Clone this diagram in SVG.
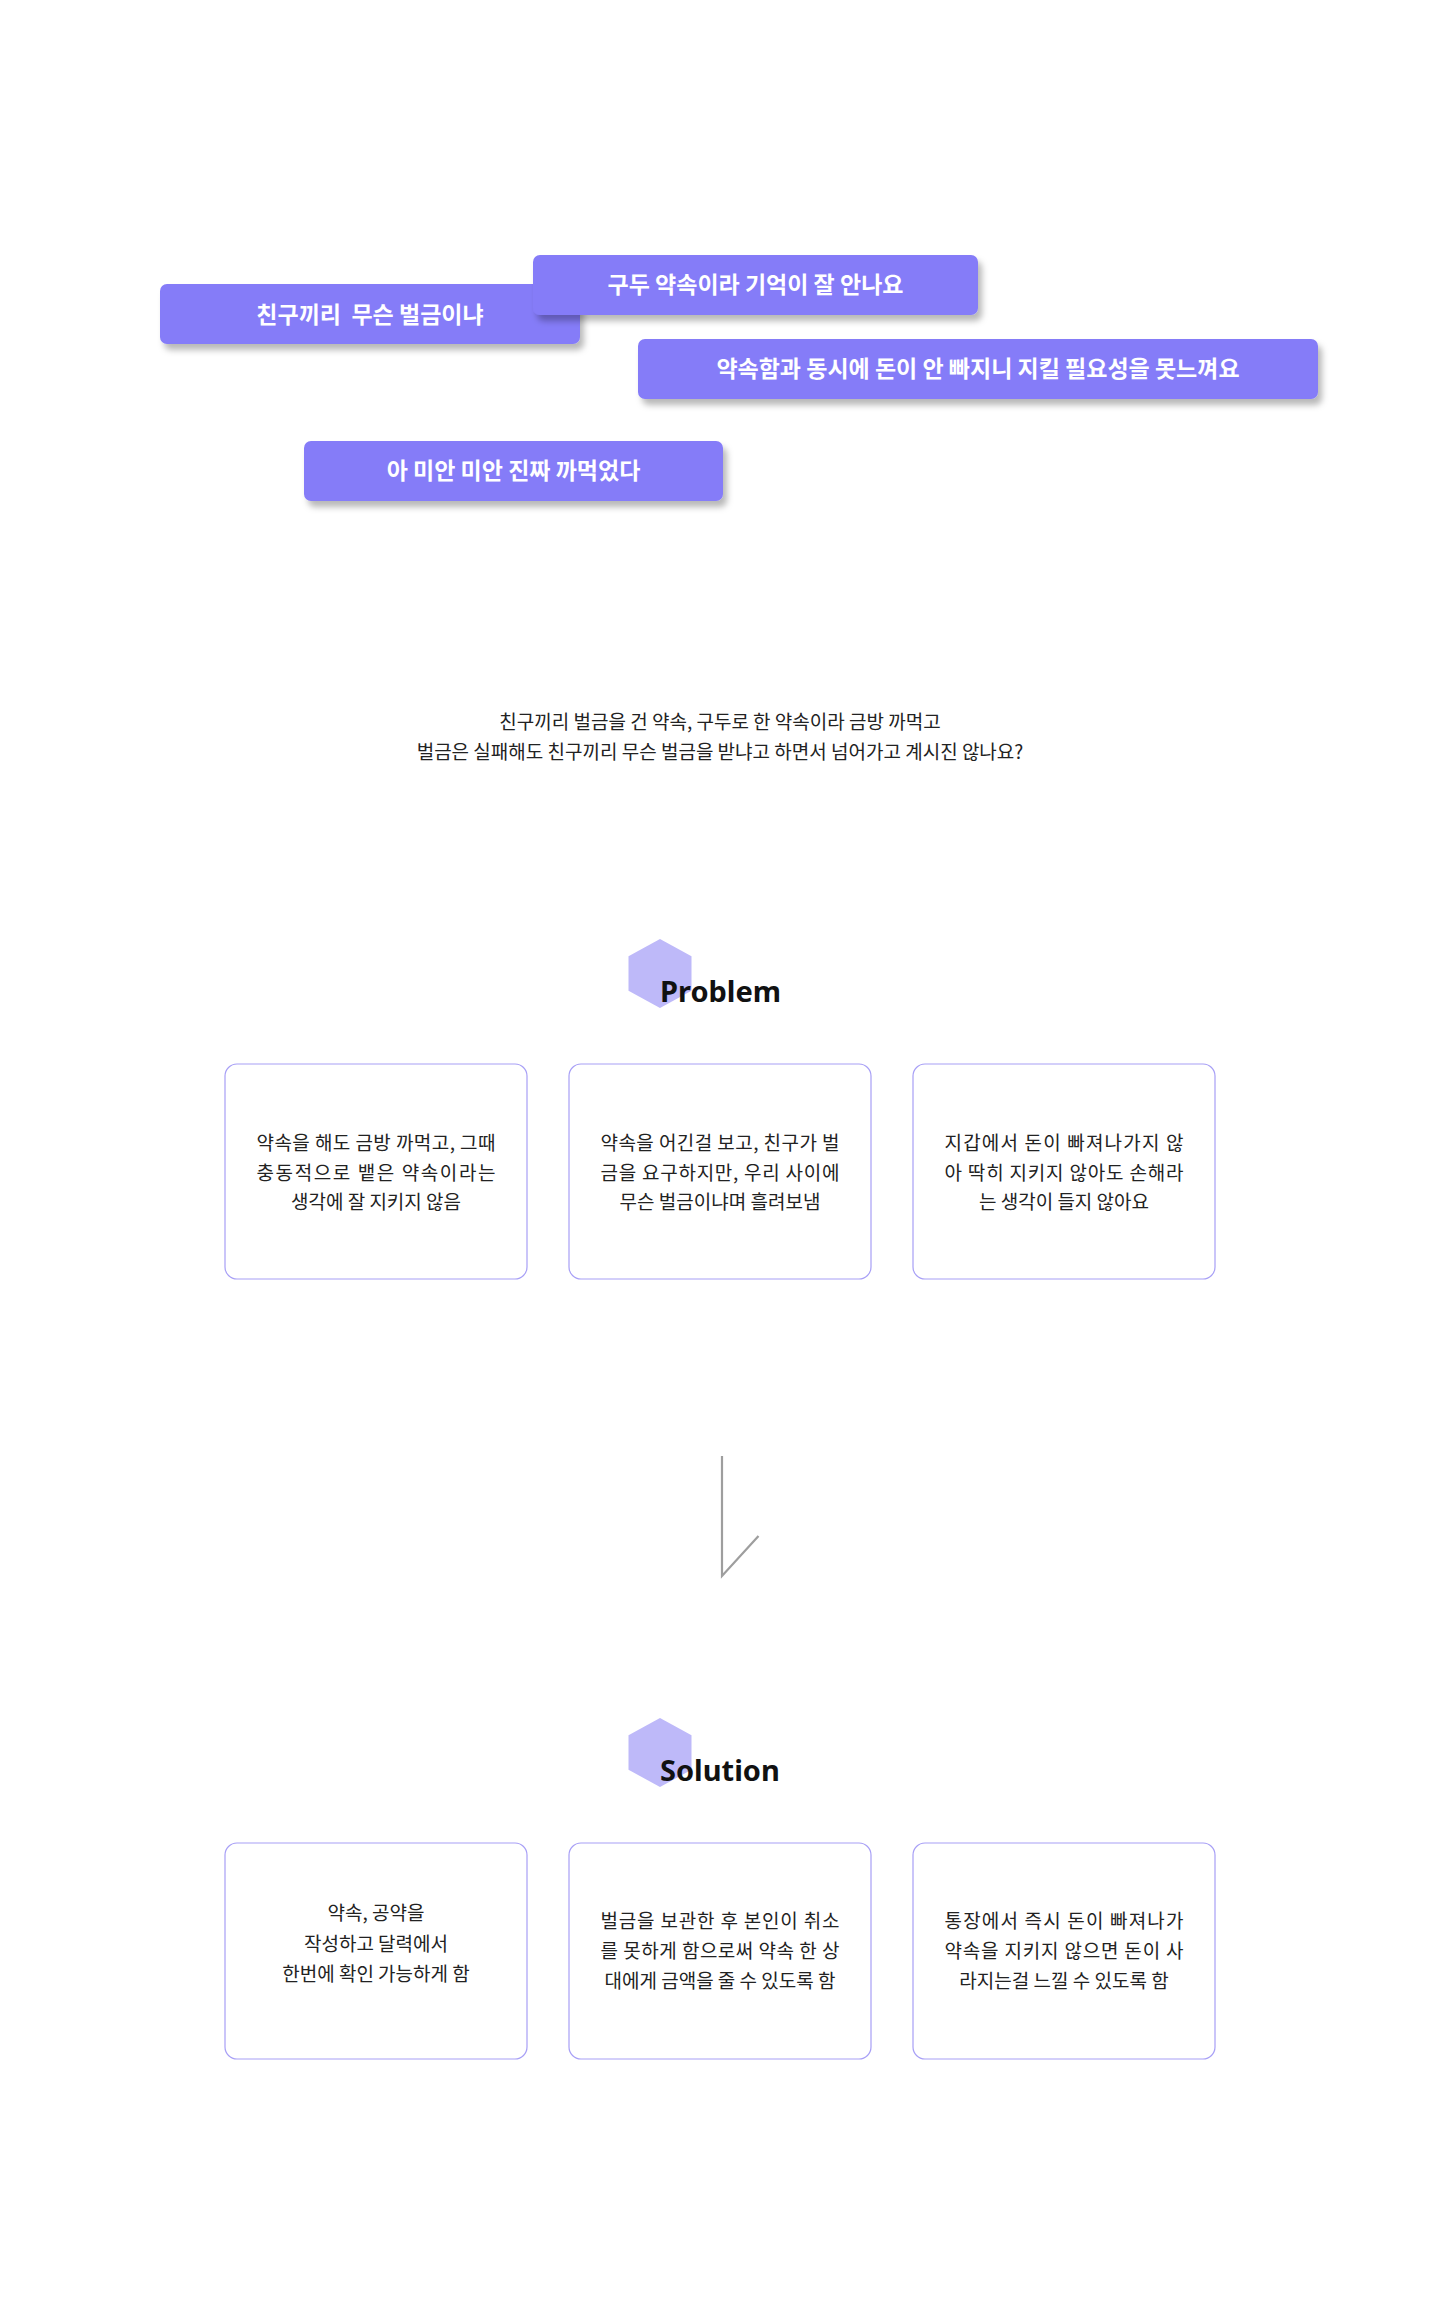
<svg xmlns="http://www.w3.org/2000/svg" width="1440" height="2300" viewBox="0 0 1440 2300">
  <style>
    .bubble { fill: #857CF8; filter: url(#shadow); }
    .btxt { font-family: "Noto Sans CJK KR", "Noto Sans", sans-serif; font-size: 23px; font-weight: 700; fill: #FFFFFF; text-anchor: middle; }
    .para { font-family: "Noto Sans CJK KR", "Noto Sans", sans-serif; font-size: 19px; fill: #222222; text-anchor: middle; }
    .hex { fill: #BEB9F9; }
    .head { font-family: "Noto Sans", "Noto Sans CJK KR", sans-serif; font-size: 29px; font-weight: 700; fill: #111111; }
    .card { fill: #FFFFFF; stroke: #A79FF6; stroke-width: 1.2; }
    .ctxt { font-family: "Noto Sans CJK KR", "Noto Sans", sans-serif; font-size: 19px; fill: #222222; text-anchor: middle; }
    .conn { fill: none; stroke: #9E9E9E; stroke-width: 2.2; }
  </style>
  <defs>
    <filter id="shadow" x="-10%" y="-30%" width="125%" height="180%">
      <feDropShadow dx="4" dy="6" stdDeviation="3" flood-color="#000000" flood-opacity="0.28"/>
    </filter>
  </defs>
  <rect x="0" y="0" width="1440" height="2300" fill="#FFFFFF"/>

  <g id="bubble-1">
    <rect class="bubble" x="160" y="284" width="420" height="60" rx="7"/>
    <text class="btxt" x="370" y="323" xml:space="preserve">친구끼리  무슨 벌금이냐</text>
  </g>
  <g id="bubble-2">
    <rect class="bubble" x="533" y="255" width="445" height="60" rx="7"/>
    <text class="btxt" x="755.5" y="293">구두 약속이라 기억이 잘 안나요</text>
  </g>
  <g id="bubble-3">
    <rect class="bubble" x="638" y="339" width="680" height="60" rx="7"/>
    <text class="btxt" x="978" y="377">약속함과 동시에 돈이 안 빠지니 지킬 필요성을 못느껴요</text>
  </g>
  <g id="bubble-4">
    <rect class="bubble" x="304" y="441" width="419" height="60" rx="7"/>
    <text class="btxt" x="513.5" y="479">아 미안 미안 진짜 까먹었다</text>
  </g>

  <g id="intro">
    <text class="para" x="720" y="728.5">친구끼리 벌금을 건 약속, 구두로 한 약속이라 금방 까먹고</text>
    <text class="para" x="720" y="758.5">벌금은 실패해도 친구끼리 무슨 벌금을 받냐고 하면서 넘어가고 계시진 않나요?</text>
  </g>

  <g id="problem-header">
    <polygon class="hex" points="660,939 691.5,956.25 691.5,990.75 660,1008 628.5,990.75 628.5,956.25"/>
    <text class="head" x="660" y="1002">Problem</text>
  </g>

  <g id="problem-1">
    <rect class="card" x="225" y="1064" width="302" height="215" rx="12"/>
    <text class="ctxt" x="376" y="1150" textLength="239" lengthAdjust="spacing">약속을 해도 금방 까먹고, 그때</text>
    <text class="ctxt" x="376" y="1179.5" textLength="239" lengthAdjust="spacing">충동적으로 뱉은 약속이라는</text>
    <text class="ctxt" x="376" y="1209">생각에 잘 지키지 않음</text>
  </g>
  <g id="problem-2">
    <rect class="card" x="569" y="1064" width="302" height="215" rx="12"/>
    <text class="ctxt" x="720" y="1150" textLength="239" lengthAdjust="spacing">약속을 어긴걸 보고, 친구가 벌</text>
    <text class="ctxt" x="720" y="1179.5" textLength="239" lengthAdjust="spacing">금을 요구하지만, 우리 사이에</text>
    <text class="ctxt" x="720" y="1209">무슨 벌금이냐며 흘려보냄</text>
  </g>
  <g id="problem-3">
    <rect class="card" x="913" y="1064" width="302" height="215" rx="12"/>
    <text class="ctxt" x="1064" y="1150" textLength="239" lengthAdjust="spacing">지갑에서 돈이 빠져나가지 않</text>
    <text class="ctxt" x="1064" y="1179.5" textLength="239" lengthAdjust="spacing">아 딱히 지키지 않아도 손해라</text>
    <text class="ctxt" x="1064" y="1209">는 생각이 들지 않아요</text>
  </g>

  <g id="connectors">
    <polyline class="conn" points="722,1456 722,1576 758.5,1536"/>
  </g>

  <g id="solution-header">
    <polygon class="hex" points="660,1718 691.5,1735.25 691.5,1769.75 660,1787 628.5,1769.75 628.5,1735.25"/>
    <text class="head" x="660" y="1781">Solution</text>
  </g>

  <g id="solution-1">
    <rect class="card" x="225" y="1843" width="302" height="216" rx="12"/>
    <text class="ctxt" x="376" y="1920">약속, 공약을</text>
    <text class="ctxt" x="376" y="1950.5">작성하고 달력에서</text>
    <text class="ctxt" x="376" y="1980.5">한번에 확인 가능하게 함</text>
  </g>
  <g id="solution-2">
    <rect class="card" x="569" y="1843" width="302" height="216" rx="12"/>
    <text class="ctxt" x="720" y="1927.5" textLength="239" lengthAdjust="spacing">벌금을 보관한 후 본인이 취소</text>
    <text class="ctxt" x="720" y="1957.5" textLength="239" lengthAdjust="spacing">를 못하게 함으로써 약속 한 상</text>
    <text class="ctxt" x="720" y="1987.5">대에게 금액을 줄 수 있도록 함</text>
  </g>
  <g id="solution-3">
    <rect class="card" x="913" y="1843" width="302" height="216" rx="12"/>
    <text class="ctxt" x="1064" y="1927.5" textLength="239" lengthAdjust="spacing">통장에서 즉시 돈이 빠져나가</text>
    <text class="ctxt" x="1064" y="1957.5" textLength="239" lengthAdjust="spacing">약속을 지키지 않으면 돈이 사</text>
    <text class="ctxt" x="1064" y="1987.5">라지는걸 느낄 수 있도록 함</text>
  </g>
</svg>
